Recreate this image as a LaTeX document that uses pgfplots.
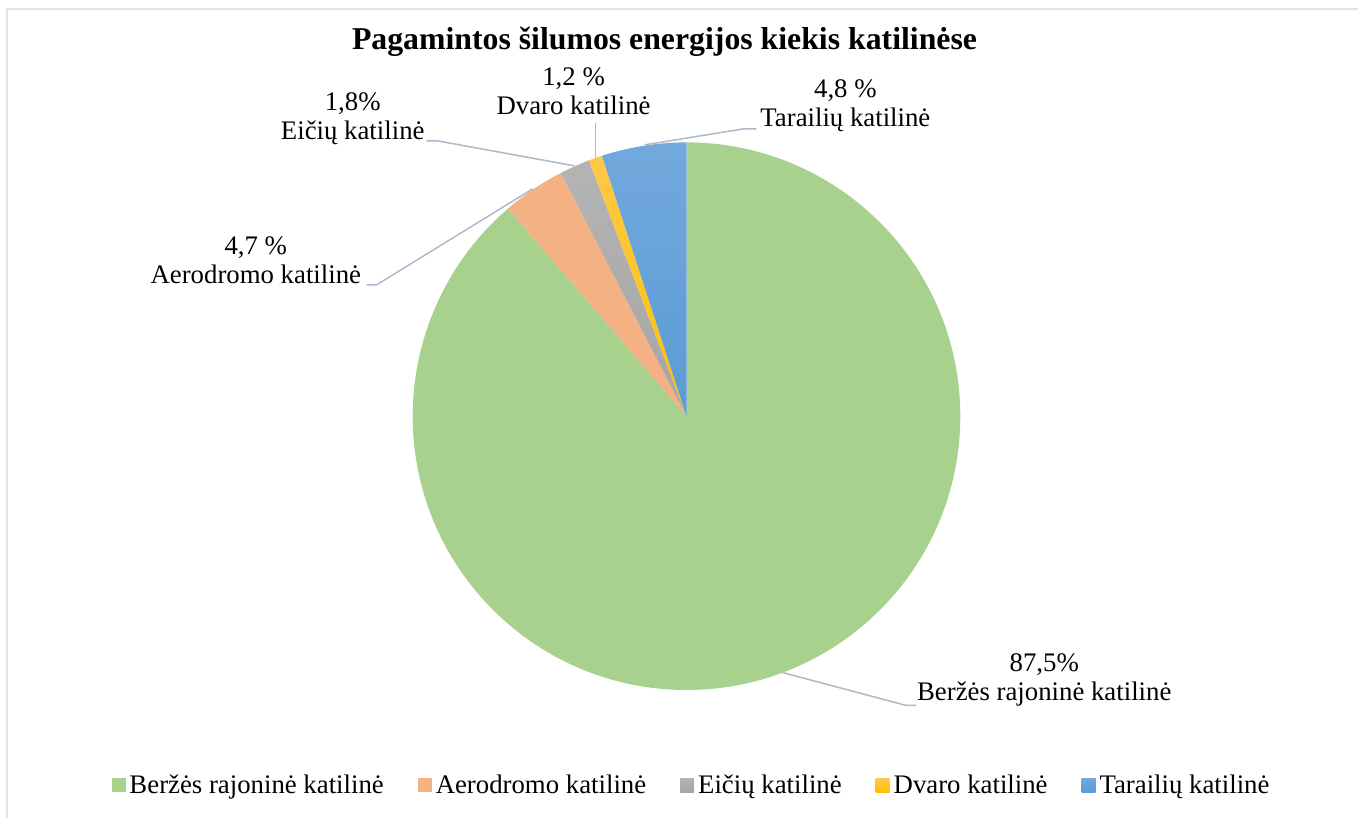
\documentclass[border=0pt]{standalone}
\usepackage{fontspec}
\setmainfont{Liberation Serif}
\usepackage{pgfplots}
\usepackage{pgfplotstable}
\pgfplotsset{compat=1.18}

\definecolor{cgreen}{HTML}{A9D18E}
\definecolor{corange}{HTML}{F4B183}
\definecolor{cgray}{HTML}{A5A5A5}
\definecolor{cgraytop}{HTML}{B4B4B4}
\definecolor{cyellow}{HTML}{FFC000}
\definecolor{cyellowtop}{HTML}{FFC84A}
\definecolor{cblue}{HTML}{5B9BD5}
\definecolor{cbluetop}{HTML}{72A9DD}
\definecolor{cleader}{HTML}{ADB9CA}
\definecolor{cborder}{HTML}{DFE3EA}

\pgfplotstableread{
label value
Berzes 88.7
Aerodromo 3.7
Eiciu 1.8
Dvaro 0.8
Tarailiu 5.0
}\piedata

\newcommand{\lblfont}{\fontsize{13.4}{14.5}\selectfont}

\begin{document}
\begin{tikzpicture}
% cumulative angles (clockwise from 12 o'clock)
\def\acc{90}
\pgfplotsforeachungrouped \i in {0,...,4}{%
  \pgfplotstablegetelem{\i}{value}\of\piedata
  \pgfmathsetmacro\nxt{\acc-3.6*\pgfplotsretval}%
  \expandafter\xdef\csname sa\i\endcsname{\acc}%
  \expandafter\xdef\csname ea\i\endcsname{\nxt}%
  \global\let\acc\nxt
}
\begin{axis}[
  x=0.5pt, y=0.5pt,
  xmin=0, xmax=1359, ymin=-819, ymax=0,
  hide axis, clip=false,
  legend columns=5,
  legend style={at={(axis cs:693,-786)}, anchor=center, draw=none, fill=none,
    font=\lblfont, inner sep=0pt,
    /tikz/every even column/.append style={column sep=15pt}},
  legend cell align=left,
]
\path (axis cs:0,-819) rectangle (axis cs:1359,0);
\draw[cborder, line width=1pt] (axis cs:7,-819) -- (axis cs:7,-9) -- (axis cs:1359,-9);

% slices
\fill[cgreen] (axis cs:687,-416.5) -- ++(\csname sa0\endcsname:137pt)
  arc[start angle=\csname sa0\endcsname, end angle=\csname ea0\endcsname, radius=137pt] -- cycle;
\fill[corange] (axis cs:687,-416.5) -- ++(\csname sa1\endcsname:137pt)
  arc[start angle=\csname sa1\endcsname, end angle=\csname ea1\endcsname, radius=137pt] -- cycle;
\shade[top color=cgraytop, bottom color=cgray] (axis cs:687,-416.5) -- ++(\csname sa2\endcsname:137pt)
  arc[start angle=\csname sa2\endcsname, end angle=\csname ea2\endcsname, radius=137pt] -- cycle;
\shade[top color=cyellowtop, bottom color=cyellow] (axis cs:687,-416.5) -- ++(\csname sa3\endcsname:137pt)
  arc[start angle=\csname sa3\endcsname, end angle=\csname ea3\endcsname, radius=137pt] -- cycle;
\shade[top color=cbluetop, bottom color=cblue] (axis cs:687,-416.5) -- ++(\csname sa4\endcsname:137pt)
  arc[start angle=\csname sa4\endcsname, end angle=\csname ea4\endcsname, radius=137pt] -- cycle;

% leader lines
\draw[cleader, line width=0.75pt] (axis cs:757,-129) -- (axis cs:744,-129) -- (axis cs:645,-145);
\draw[cleader, line width=0.75pt] (axis cs:596,-123) -- (axis cs:596,-158);
\draw[cleader, line width=0.75pt] (axis cs:427,-141) -- (axis cs:438,-141) -- (axis cs:575,-166);
\draw[cleader, line width=0.75pt] (axis cs:367,-285) -- (axis cs:377,-285) -- (axis cs:533,-189);
\draw[cleader, line width=0.75pt] (axis cs:783,-673) -- (axis cs:907,-706) -- (axis cs:917,-706);

% data labels
\node[align=center, font=\lblfont] at (axis cs:846,-105.5) {4,8 \%\\Tarailių katilinė};
\node[align=center, font=\lblfont] at (axis cs:574,-91.5) {1,2 \%\\Dvaro katilinė};
\node[align=center, font=\lblfont] at (axis cs:353,-118.5) {1,8\%\\Eičių katilinė};
\node[align=center, font=\lblfont] at (axis cs:256,-260.5) {4,7 \%\\Aerodromo katilinė};
\node[align=center, font=\lblfont] at (axis cs:1045,-680.5) {87,5\%\\Beržės rajoninė katilinė};

% title
\node[font=\fontsize{15.9}{18}\selectfont\bfseries] at (axis cs:665,-42) {Pagamintos šilumos energijos kiekis katilinėse};

% legend
\addlegendimage{legend image code/.code={\path[fill=cgreen, draw=none] (0pt,-3.5pt) rectangle (7pt,3.5pt);}}
\addlegendentry{Beržės rajoninė katilinė}
\addlegendimage{legend image code/.code={\path[fill=corange, draw=none] (0pt,-3.5pt) rectangle (7pt,3.5pt);}}
\addlegendentry{Aerodromo katilinė}
\addlegendimage{legend image code/.code={\path[draw=none, top color=cgraytop, bottom color=cgray] (0pt,-3.5pt) rectangle (7pt,3.5pt);}}
\addlegendentry{Eičių katilinė}
\addlegendimage{legend image code/.code={\path[draw=none, top color=cyellowtop, bottom color=cyellow] (0pt,-3.5pt) rectangle (7pt,3.5pt);}}
\addlegendentry{Dvaro katilinė}
\addlegendimage{legend image code/.code={\path[draw=none, top color=cbluetop, bottom color=cblue] (0pt,-3.5pt) rectangle (7pt,3.5pt);}}
\addlegendentry{Tarailių katilinė}
\end{axis}
\end{tikzpicture}
\end{document}
